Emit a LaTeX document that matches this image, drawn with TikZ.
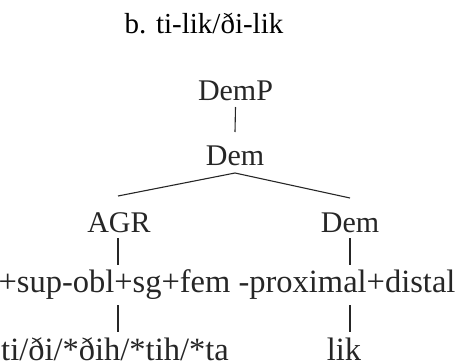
\documentclass[tikz,border=0pt]{standalone}
\usepackage{fontspec}
\setmainfont{Liberation Serif}
\begin{document}
\begin{tikzpicture}[x=1pt,y=-1pt,
  lbl/.style={anchor=base,inner sep=0pt,text=black!85,font=\fontsize{30}{34}\selectfont},
  wide/.style={lbl,font=\fontsize{32.5}{36}\selectfont},
  ttl/.style={anchor=base,inner sep=0pt,text=black,font=\fontsize{29}{34}\selectfont},
  edge/.style={draw=black!85,line width=1.1pt}]
\useasboundingbox (0,0) rectangle (456,364);
\node[ttl] (title) at (204,33) {b. ti-lik/ði-lik};
\node[lbl] (demp) at (235.5,100) {DemP};
\node[lbl] (dem) at (235,165) {Dem};
\node[lbl] (agr) at (119,232) {AGR};
\node[lbl] (dem2) at (350,232) {Dem};
\node[wide] (f1) at (114.5,292) {+sup-obl+sg+fem};
\node[wide] (f2) at (347,292) {-proximal+distal};
\node[wide] (l1) at (115,360) {ti/ði/*ðih/*tih/*ta};
\node[wide] (l2) at (344,360) {lik};
\draw[edge] ([yshift=-7pt]demp.base) -- ([yshift=33pt]dem.base);
\draw[edge] ([xshift=-1pt,yshift=36pt]agr.base) -- ([yshift=-8pt]dem.base) -- ([yshift=34pt]dem2.base);
\draw[edge] ([xshift=-1pt,yshift=-6pt]agr.base) -- ([xshift=-1pt,yshift=27pt]agr.base |- f1.base);
\draw[edge] ([yshift=-6pt]dem2.base) -- ([yshift=27pt]dem2.base |- f2.base);
\draw[edge] ([xshift=-1pt,yshift=-13pt]agr.base |- f1.base) -- ([xshift=-1pt,yshift=28pt]agr.base |- l1.base);
\draw[edge] ([yshift=-13pt]dem2.base |- f2.base) -- ([yshift=28pt]dem2.base |- l2.base);
\end{tikzpicture}
\end{document}
